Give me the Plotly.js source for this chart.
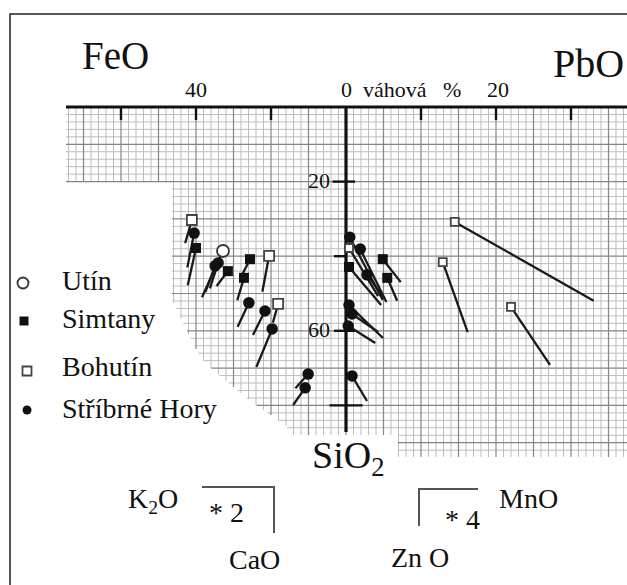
<!DOCTYPE html>
<html><head><meta charset="utf-8">
<script src="https://cdn.plot.ly/plotly-3.0.1.min.js"></script>
<style>html,body{margin:0;padding:0;background:#fff}#chart{width:627px;height:585px}</style>
</head><body><div id="chart"></div>
<script>
// ---------------- DATA (wt. %) ----------------
// Left half: FeO vs SiO2, tails = K2O*2 (left) and CaO*2 (down)
const sitesLeft = ["Utín", "Simtany", "Bohutín", "Stříbrné Hory"];
const utinFeO  = [32.8];
const utinSiO2 = [38.6];
const utinK2O  = [2.8];
const utinCaO  = [6.2];

const simFeO  = [40.0, 31.5, 25.6, 27.2];
const simSiO2 = [37.8, 44.0, 40.8, 45.8];
const simK2O  = [1.1, 1.5, 1.3, 0.9];
const simCaO  = [5.0, 2.0, 2.6, 3.0];

const bohFeO  = [41.1, 20.5, 18.1];
const bohSiO2 = [30.3, 39.9, 52.8];
const bohK2O  = [0.9, 0.9, 0.7];
const bohCaO  = [3.1, 4.8, 2.5];

const shFeO  = [40.5, 34.1, 34.9, 25.9, 21.6, 19.7, 10.1, 10.9];
const shSiO2 = [33.8, 41.8, 42.6, 52.5, 54.7, 59.5, 71.6, 75.3];
const shK2O  = [0.9, 1.1, 1.3, 1.5, 1.6, 2.1, 1.7, 1.6];
const shCaO  = [4.6, 3.4, 3.5, 3.2, 3.2, 5.1, 1.9, 2.3];

// Right half: PbO vs SiO2, tails = MnO*4 (right) and ZnO*4 (down)
const simPbO   = [0.4, 4.9, 5.5];
const simSiO2R = [42.9, 40.8, 45.8];
const simMnO   = [1.07, 0.6, 0.33];
const simZnO   = [2.55, 1.54, 1.54];

const bohPbO   = [0.4, 14.5, 12.9, 22.0];
const bohSiO2R = [37.8, 30.8, 41.6, 53.6];
const bohMnO   = [0.97, 4.63, 0.83, 1.3];
const bohZnO   = [3.22, 5.29, 4.69, 3.89];

const shPbO   = [0.5, 1.9, 2.8, 0.4, 0.8, 0.3, 0.8];
const shSiO2R = [34.9, 38.1, 45.0, 53.1, 55.5, 58.7, 72.1];
const shMnO   = [1.1, 0.87, 0.57, 1.13, 0.87, 0.9, 0.5];
const shZnO   = [4.2, 3.55, 1.54, 2.21, 1.21, 1.14, 1.68];

const topTickVals  = [-60, -40, -20, 20, 40, 60];
const sioTickVals  = [20, 40, 60, 80];
const sioTickLabels = ["20", "60"];

// ---------------- LAYOUT GEOMETRY ----------------
const W = 627, H = 585;
const OX = 346, OY = 107;        // origin in px
const KX = 3.75, KY = 3.73;      // px per unit
const ux = px => (px - OX) / KX;
const uy = py => (py - OY) / KY;
const FONT = "Liberation Serif, Times New Roman, serif";

// grid region (scanned graph paper, irregular outline)
const diag = [[300,172],[327,185],[357,200],[372,215],[403,253],[425,285],[435,292]];
function xl(y){
  if (y <= 182) return 66;
  if (y <= 300) return 172;
  if (y > 435) return 398;
  for (let i=1;i<diag.length;i++){
    if (y <= diag[i][0]){
      const [y0,x0]=diag[i-1],[y1,x1]=diag[i];
      return x0 + (x1-x0)*(y-y0)/(y1-y0);
    }
  }
  return 292;
}
function yb(x){ return x < 398 ? 435 : 457; }
function inside(x,y){ return y>=OY && y<=yb(x) && x>=xl(y) && x<=W; }

function gridLines(major){
  const xs=[], ys=[];
  for (let k=-40;k<=40;k++){
    const isMajor = (k%5===0);
    if (isMajor!==major) continue;
    const x = OX + k*7.5;
    if (x<66 || x>W) continue;
    let y=OY, yEnd=OY;
    while (y<=460){ if(inside(x,y)) yEnd=y; else if (x<172 && y>182) break; y+=0.5; }
    if (yEnd>OY){ xs.push(ux(x),ux(x),null); ys.push(0,uy(yEnd),null); }
  }
  for (let k=0;k<=100;k++){
    const isMajor=(k%5===0);
    if (isMajor!==major) continue;
    const y = OY + k*2*KY;
    if (y>457) break;
    const x0 = xl(y);
    xs.push(ux(x0),ux(W),null); ys.push(uy(y),uy(y),null);
  }
  return {x:xs,y:ys};
}

const traces=[];
const gMin=gridLines(false), gMaj=gridLines(true);
traces.push({type:"scatter",mode:"lines",x:gMin.x,y:gMin.y,line:{color:"#bdbdbd",width:1},hoverinfo:"skip",showlegend:false});
traces.push({type:"scatter",mode:"lines",x:gMaj.x,y:gMaj.y,line:{color:"#858585",width:1.2},hoverinfo:"skip",showlegend:false});

// axes
traces.push({type:"scatter",mode:"lines",x:[ux(66),ux(W),null,0,0],y:[0,0,null,0,uy(432)],
  line:{color:"#111",width:3.2},hoverinfo:"skip",showlegend:false});
// ticks
const tx=[],ty=[];
topTickVals.forEach(v=>{tx.push(v,v,null);ty.push(0,3.5,null);});
const tickL={20:[-3.6,2.4],40:[-3.2,0],60:[-3.2,2.4],80:[-4.4,4.4]};
sioTickVals.forEach(v=>{tx.push(tickL[v][0],tickL[v][1],null);ty.push(v,v,null);});
traces.push({type:"scatter",mode:"lines",x:tx,y:ty,line:{color:"#111",width:2.4},hoverinfo:"skip",showlegend:false});

// tails
function tailsLeft(feo,sio,k2o,cao){
  const x=[],y=[];
  feo.forEach((f,i)=>{x.push(-f,-f-2*k2o[i],null);y.push(sio[i],sio[i]+2*cao[i],null);});
  return {x,y};
}
function tailsRight(pbo,sio,mno,zno){
  const x=[],y=[];
  pbo.forEach((p,i)=>{x.push(2*p,2*p+8*mno[i],null);y.push(sio[i],sio[i]+4*zno[i],null);});
  return {x,y};
}
[tailsLeft(utinFeO,utinSiO2,utinK2O,utinCaO),
 tailsLeft(simFeO,simSiO2,simK2O,simCaO),
 tailsLeft(bohFeO,bohSiO2,bohK2O,bohCaO),
 tailsLeft(shFeO,shSiO2,shK2O,shCaO),
 tailsRight(simPbO,simSiO2R,simMnO,simZnO),
 tailsRight(bohPbO,bohSiO2R,bohMnO,bohZnO),
 tailsRight(shPbO,shSiO2R,shMnO,shZnO)].forEach(t=>{
  traces.push({type:"scatter",mode:"lines",x:t.x,y:t.y,line:{color:"#1a1a1a",width:2.3},hoverinfo:"skip",showlegend:false});
});

// markers
const mk = {
  "Utín":{symbol:"circle",size:12,color:"#fff",line:{width:1.8,color:"#333"}},
  "Simtany":{symbol:"square",size:10,color:"#111"},
  "Bohutín":{symbol:"square",size:10,color:"#fff",line:{width:1.8,color:"#444"}},
  "Stříbrné Hory":{symbol:"circle",size:11.5,color:"#111"}
};
function pts(name,x,y,size){
  const m=Object.assign({},mk[name]); if(size) m.size=size;
  traces.push({type:"scatter",mode:"markers",name:name,x:x,y:y,marker:m,showlegend:false,
    hovertemplate:name+"<extra></extra>"});
}
pts("Utín",utinFeO.map(v=>-v),utinSiO2);
pts("Simtany",simFeO.map(v=>-v),simSiO2);
pts("Bohutín",bohFeO.map(v=>-v),bohSiO2);
pts("Stříbrné Hory",shFeO.map(v=>-v),shSiO2);
pts("Simtany",simPbO.map(v=>2*v),simSiO2R);
pts("Bohutín",bohPbO.map(v=>2*v),bohSiO2R,8);
pts("Stříbrné Hory",shPbO.map(v=>2*v),shSiO2R);

// legend keys (drawn as markers) + labels
const legPx=[[23,283],[24,321],[27,371],[27,410]];
const legTextY=[280,319,366,408];
const legSize=[11,9,9,9];
const A=[];
function ann(text,xpx,ypx,size,xanchor){
  return {text:text,x:xpx/W,y:1-ypx/H,xref:"paper",yref:"paper",showarrow:false,
    xanchor:xanchor||"left",yanchor:"middle",font:{family:FONT,size:size,color:"#111"}};
}
sitesLeft.forEach((s,i)=>{
  const m=Object.assign({},mk[s]); m.size=legSize[i];
  traces.push({type:"scatter",mode:"markers",x:[ux(legPx[i][0])],y:[uy(legPx[i][1])],marker:m,hoverinfo:"skip",showlegend:false});
  A.push(ann(s,60,legTextY[i],28));
});

A.push(ann("FeO",80,55,39));
A.push(ann("PbO",551,63,40));
A.push(ann("40",196,89,22,"center"));
A.push(ann("0",346,89,22,"center"));
A.push(ann("váhová&nbsp;&nbsp;&nbsp;%",361,89,22));
A.push(ann("20",498,89,22,"center"));
A.push(ann(sioTickLabels[0],332,180,22,"right"));
A.push(ann(sioTickLabels[1],332,329,22,"right"));
A.push(ann("SiO<sub>2</sub>",310,458,38));
A.push(ann("K<sub>2</sub>O",126,500,28));
A.push(ann("* 2",207,512,28));
A.push(ann("CaO",227,559,28));
A.push(ann("* 4",443,519,28));
A.push(ann("MnO",497,498,28));
A.push(ann("Zn O",389,557,28));

const shapes=[
  {type:"rect",xref:"paper",yref:"paper",x0:10/W,x1:1.05,y0:-0.05,y1:1-14/H,line:{color:"#222",width:1.5}},
  {type:"path",xref:"paper",yref:"paper",path:`M ${202/W} ${1-487/H} L ${274/W} ${1-487/H} L ${274/W} ${1-533/H}`,line:{color:"#555",width:2}},
  {type:"path",xref:"paper",yref:"paper",path:`M ${419/W} ${1-526/H} L ${419/W} ${1-489/H} L ${478/W} ${1-489/H}`,line:{color:"#555",width:2}}
];

const layout={
  width:W,height:H,margin:{l:0,r:0,t:0,b:0},
  paper_bgcolor:"#fff",plot_bgcolor:"#fff",showlegend:false,
  xaxis:{range:[ux(0),ux(W)],visible:false,fixedrange:true},
  yaxis:{range:[uy(H),uy(0)],visible:false,fixedrange:true},
  annotations:A,shapes:shapes,font:{family:FONT}
};
Plotly.newPlot("chart",traces,layout,{displayModeBar:false,staticPlot:true});
</script></body></html>
